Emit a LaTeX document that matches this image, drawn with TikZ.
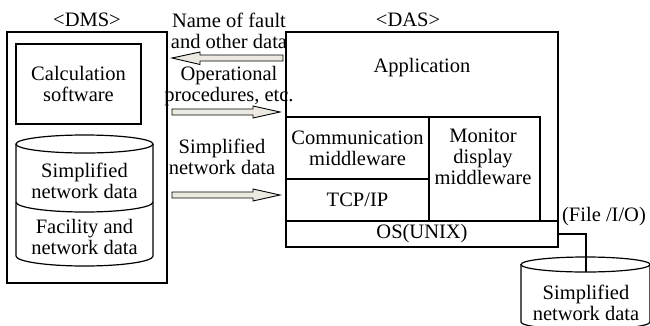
\documentclass[tikz,border=0pt]{standalone}
\usepackage{fontspec}
\setmainfont{Liberation Serif}
\definecolor{arrowfill}{RGB}{236,234,224}
\begin{document}
\begin{tikzpicture}[x=1pt,y=-1pt,
  every node/.style={font=\fontsize{20.5}{21}\selectfont, inner sep=0pt, align=center},
  box/.style={draw, line width=1.2pt, minimum width=#1},
  line/.style={line width=1.2pt},
  blockarrow/.style={draw, line width=0.9pt, fill=arrowfill, line join=miter}]
\useasboundingbox (0,0) rectangle (650,325);
\clip (0,0) rectangle (650,325);

% ---- DMS side ----
\node (dmslabel) at (87,20) {<DMS>};
\node[box=160pt, minimum height=251pt] (dms) at (87,157.5) {};
\node[box=125pt, minimum height=80pt] (calc) at (78.5,84) {Calculation\\software};

% database cylinder inside DMS
\draw[line] (16,144) -- (16,256) arc[start angle=180, end angle=0, x radius=68.5, y radius=10] -- (153,144);
\draw[line] (84.5,144) ellipse[x radius=68.5, y radius=9];
\draw[line] (16,202) arc[start angle=180, end angle=0, x radius=68.5, y radius=10];
\node (dbsimp) at (84.5,181) {Simplified\\network data};
\node (dbfac) at (84.5,237) {Facility and\\network data};

% ---- transfer arrows ----
\draw[blockarrow] (283,55) -- (200,55) -- (200,52) -- (172,58) -- (200,64.5) -- (200,61) -- (283,61) -- cycle;
\draw[blockarrow] (172,109) -- (253,109) -- (253,106) -- (280,112) -- (253,118) -- (253,115) -- (172,115) -- cycle;
\draw[blockarrow] (172,192) -- (253,192) -- (253,189) -- (280,195) -- (253,201) -- (253,198) -- (172,198) -- cycle;
\node (lblfault) at (229,31) {Name of fault\\and other data};
\node (lblops) at (229,86) {Operational\\procedures, etc.};
\node (lblsimp) at (222,157) {Simplified\\network data};

% ---- DAS side ----
\node (daslabel) at (408,20) {<DAS>};
\node[box=272pt, minimum height=215pt] (das) at (422,139.5) {};
\node (app) at (422,68) {Application};
\node[box=143pt, minimum height=62pt] (comm) at (357.5,148) {Communication\\middleware};
\node[box=143pt, minimum height=42pt] (tcp) at (357.5,200) {TCP/IP};
\node[box=111pt, minimum height=104pt] (mon) at (484.5,169) {};
\node (montext) at (483,157) {Monitor\\display\\middleware};
\node[box=272pt, minimum height=26pt] (os) at (422,234) {OS(UNIX)};
\node (fileio) at (604,217) {(File /I/O)};

% external database
\draw[line] (521,264.5) -- (521,322) arc[start angle=180, end angle=0, x radius=64.5, y radius=7.5] -- (650,264.5);
\draw[line] (585.5,264.5) ellipse[x radius=64.5, y radius=7.5];
\coordinate (dbtop) at (586,272);
\node (extdb) at (586,303) {Simplified\\network data};
\draw[line] (os.east) -| (dbtop);
\end{tikzpicture}
\end{document}
